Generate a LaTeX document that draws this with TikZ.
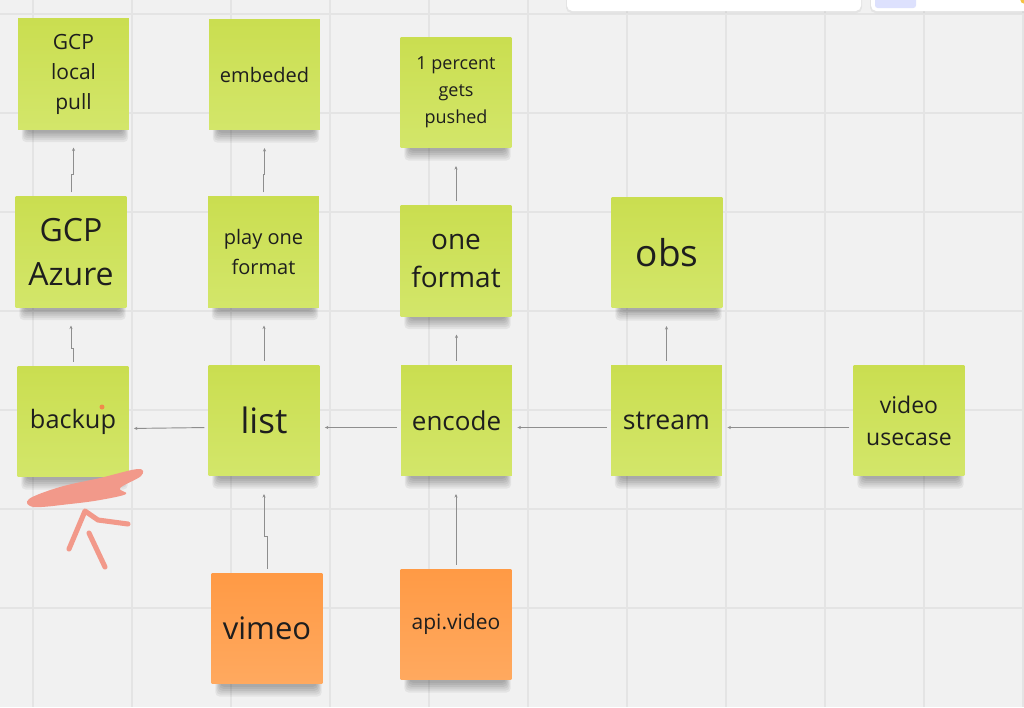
\documentclass[tikz,border=0pt]{standalone}
\usepackage{fontspec}
\setmainfont{Open Sans}
\usepackage{xcolor}
\usepackage{tikz}
\usetikzlibrary{arrows.meta,positioning,backgrounds,calc}
\definecolor{boardgrey}{HTML}{F1F1F1}
\definecolor{gridgrey}{HTML}{E4E4E4}
\definecolor{linkgrey}{HTML}{8E8E8E}
\definecolor{greentop}{HTML}{CADE50}
\definecolor{greenbottom}{HTML}{D3E66A}
\definecolor{orangetop}{HTML}{FF9A45}
\definecolor{orangebottom}{HTML}{FFA95F}
\definecolor{inkdark}{HTML}{1E1E1E}
\definecolor{penred}{HTML}{F2998A}
\definecolor{pendot}{HTML}{F08A4B}
\definecolor{uilavender}{HTML}{DDE1FD}
\definecolor{uiyellow}{HTML}{F5C242}
\newcommand{\notefont}[2]{\fontsize{#1}{#2}\selectfont}
\tikzset{
  sticky/.style={rectangle, top color=greentop, bottom color=greenbottom, text=inkdark, align=center, minimum width=83pt, minimum height=83pt, inner sep=2pt},
  orangesticky/.style={sticky, top color=orangetop, bottom color=orangebottom},
  edge/.style={-{Stealth[length=2.6pt,width=2.4pt]}, line width=0.7pt, draw=linkgrey, shorten <=3pt},
  upedge/.style={edge, shorten >=13.5pt},
  sideedge/.style={edge, shorten >=4pt},
  scribble/.style={draw=penred, line cap=round, line join=round}
}

\begin{document}
\begin{tikzpicture}[x=0.75pt,y=-0.75pt]
  \useasboundingbox (0,0) rectangle (1024,707);
  \node[sticky, font=\notefont{15.75pt}{22.5pt}] (pull) at (73.5,74) {GCP\\local\\pull};
  \node[sticky, font=\notefont{15pt}{22.5pt}] (embed) at (264.5,74.5) {embeded};
  \node[sticky, font=\notefont{13.5pt}{20.25pt}] (pushed) at (456,92.5) {1 percent\\gets\\pushed};
  \node[sticky, font=\notefont{24pt}{33pt}] (gcpaz) at (71,252) {GCP\\Azure};
  \node[sticky, font=\notefont{15pt}{22.5pt}] (playfmt) at (263.5,252) {play one\\format};
  \node[sticky, font=\notefont{21pt}{28.5pt}] (onefmt) at (456,261) {one\\format};
  \node[sticky, font=\notefont{27.75pt}{33pt}] (obs) at (667,252.5) {obs};
  \node[sticky, font=\notefont{19pt}{24pt}] (backup) at (73,421.5) {backup};
  \node[sticky, font=\notefont{26.25pt}{33pt}] (list) at (264,420.5) {list};
  \node[sticky, font=\notefont{19.5pt}{24pt}] (encode) at (456.5,420.5) {encode};
  \node[sticky, font=\notefont{20pt}{24pt}] (stream) at (666.5,420.5) {stream};
  \node[sticky, font=\notefont{17.25pt}{24pt}] (usecase) at (909,420.5) {video\\usecase};
  \node[orangesticky, font=\notefont{23.25pt}{28pt}] (vimeo) at (267,628.5) {vimeo};
  \node[orangesticky, font=\notefont{15.75pt}{22pt}] (apivid) at (456,624.5) {api.video};

  \begin{scope}[on background layer]
    \fill[boardgrey] (0,0) rectangle (1024,707);
    \foreach \gx in {33,132,...,1023}
      \draw[gridgrey, line width=0.8pt] (\gx,0) -- (\gx,707);
    \foreach \gy in {14,113,...,608}
      \draw[gridgrey, line width=0.8pt] (0,\gy) -- (1024,\gy);
    \foreach \n in {pull,embed,pushed,gcpaz,playfmt,onefmt,obs,backup,list,encode,stream,usecase,vimeo,apivid}
      \foreach \s in {1,...,6}
        \fill[black, opacity=0.055, rounded corners=3pt] ($(\n.south west)+(10-\s,-4)$) rectangle ($(\n.south east)+(-7+\s,1+1.9*\s)$);
  \end{scope}

  \draw[upedge] (backup.north) -- ++(0,-17) -| (gcpaz.south);
  \draw[upedge] (gcpaz.north) -- ++(0,-22) -| (pull.south);
  \draw[upedge] (playfmt.north) -- ++(0,-22) -| (embed.south);
  \draw[upedge] (list.north) -- (list.north |- playfmt.south);
  \draw[upedge] (encode.north) -- (encode.north |- onefmt.south);
  \draw[upedge] (onefmt.north) -- (onefmt.north |- pushed.south);
  \draw[upedge] (stream.north) -- (stream.north |- obs.south);
  \draw[upedge] (vimeo.north) -- ++(0,-36) -| (list.south);
  \draw[upedge] (apivid.north) -- (apivid.north |- encode.south);
  \draw[sideedge] ([yshift=-5.25pt]list.west) -- ([yshift=-5.25pt]backup.east);
  \draw[sideedge] ([yshift=-5.25pt]encode.west) -- ([yshift=-5.25pt]list.east);
  \draw[sideedge] ([yshift=-5.25pt]stream.west) -- ([yshift=-5.25pt]encode.east);
  \draw[sideedge] ([yshift=-5.25pt]usecase.west) -- ([yshift=-5.25pt]stream.east);

  \fill[pendot] (102,407) circle (2.5);
  \fill[penred] plot[smooth cycle, tension=0.6] coordinates {(29,499) (60,487) (100,478) (138,469) (141,476) (120,488) (126,494) (100,500) (70,504) (34,507)};
  \draw[scribble, line width=3.8pt] (69,549) -- (85,511) -- (98,520) -- (128,524);
  \draw[scribble, line width=3.8pt] (89,533) -- (105,567);

  \fill[black, opacity=0.05, rounded corners=4pt] (566,-10) rectangle (862,13);
  \fill[white, rounded corners=4pt] (567,-10) rectangle (861,11);
  \fill[black, opacity=0.05, rounded corners=4pt] (870,-10) rectangle (1030,13);
  \fill[white, rounded corners=4pt] (871,-10) rectangle (1030,11);
  \fill[uilavender, rounded corners=2pt] (875,-10) rectangle (916,8);
  \fill[uiyellow] (1025,-1) circle (5);
\end{tikzpicture}
\end{document}
